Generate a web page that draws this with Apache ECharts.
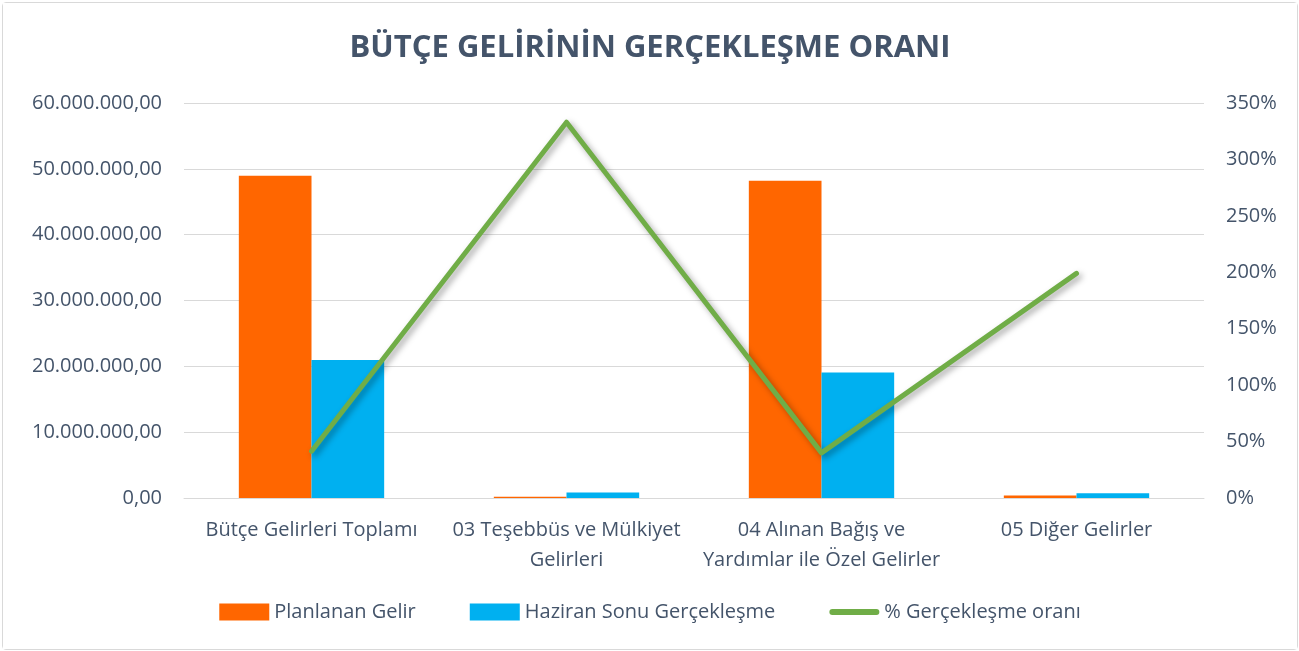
<!DOCTYPE html>
<html>
<head>
<meta charset="utf-8">
<script src="https://cdn.jsdelivr.net/npm/echarts@6/dist/echarts.min.js"></script>
<style>
  html, body { margin: 0; padding: 0; background: #fff; }
  #chart { position: absolute; left: 2px; top: 2px; width: 1294px; height: 646px; border: 1px solid #D9D9D9; border-radius: 4px; }
</style>
</head>
<body>
<div id="chart"></div>
<script>
var categories = ['Bütçe Gelirleri Toplamı', '03 Teşebbüs ve Mülkiyet\nGelirleri', '04 Alınan Bağış ve\nYardımlar ile Özel Gelirler', '05 Diğer Gelirler'];
var planlanan = [48950000, 200000, 48200000, 380000];
var gerceklesen = [20950000, 820000, 19050000, 730000];
var oran = [41.5, 333, 40, 199];

var textColor = '#44546A';
var font = 'Open Sans';

function trNumber(v) {
  var s = Math.round(v).toString().replace(/\B(?=(\d{3})+(?!\d))/g, '.');
  return s + ',00';
}

var chart = echarts.init(document.getElementById('chart'));
var option = {
  backgroundColor: '#fff',
  title: {
    text: 'BÜTÇE GELİRİNİN GERÇEKLEŞME ORANI',
    left: 'center',
    top: 25,
    textStyle: { color: textColor, fontFamily: font, fontWeight: 'bold', fontSize: 31 }
  },
  legend: {
    bottom: 22,
    left: 'center',
    itemWidth: 50,
    itemHeight: 17,
    itemGap: 54,
    textStyle: { color: textColor, fontFamily: font, fontSize: 20 },
    data: [
      { name: 'Planlanan Gelir', icon: 'rect' },
      { name: 'Haziran Sonu Gerçekleşme', icon: 'rect' },
      { name: '% Gerçekleşme oranı', icon: 'path://M3,0L47,0A3,3 0 0 1 47,6L3,6A3,3 0 0 1 3,0Z' }
    ]
  },
  grid: { left: 181, right: 93, top: 100, bottom: 151 },
  xAxis: {
    type: 'category',
    data: categories,
    axisTick: { show: false },
    axisLine: { lineStyle: { color: '#D9D9D9' } },
    axisLabel: { color: textColor, fontFamily: font, fontSize: 20, margin: 17, lineHeight: 30, interval: 0 }
  },
  yAxis: [{
    type: 'value',
    min: 0,
    max: 60000000,
    interval: 10000000,
    axisLine: { show: false },
    axisTick: { show: false },
    splitLine: { lineStyle: { color: '#D9D9D9' } },
    axisLabel: { color: textColor, fontFamily: font, fontSize: 20, margin: 22, formatter: trNumber }
  }, {
    type: 'value',
    min: 0,
    max: 350,
    interval: 50,
    axisLine: { show: false },
    axisTick: { show: false },
    splitLine: { show: false },
    axisLabel: { color: textColor, fontFamily: font, fontSize: 20, margin: 22, formatter: '{value}%' }
  }],
  series: [{
    name: 'Planlanan Gelir',
    type: 'bar',
    data: planlanan,
    barGap: '0%',
    barCategoryGap: '43%',
    itemStyle: { color: '#FF6600' }
  }, {
    name: 'Haziran Sonu Gerçekleşme',
    type: 'bar',
    data: gerceklesen,
    itemStyle: { color: '#00B0F0' }
  }, {
    name: '% Gerçekleşme oranı',
    type: 'line',
    yAxisIndex: 1,
    data: oran,
    symbol: 'none',
    lineStyle: {
      color: '#70AD47', width: 5, cap: 'round', join: 'round',
      shadowColor: 'rgba(0,0,0,0.35)', shadowBlur: 6, shadowOffsetX: 3, shadowOffsetY: 3
    },
    itemStyle: { color: '#70AD47' }
  }]
};
chart.setOption(option);
window.addEventListener('resize', chart.resize);
</script>
</body>
</html>
